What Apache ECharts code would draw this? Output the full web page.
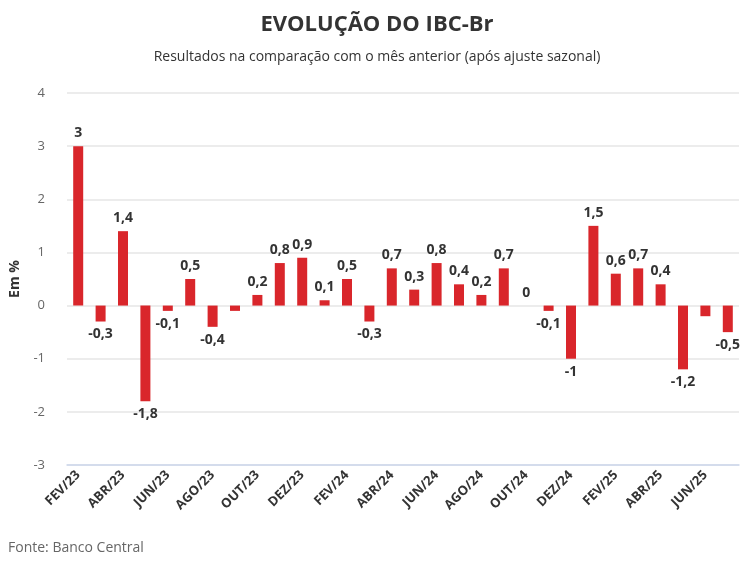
<!DOCTYPE html>
<html>
<head>
<meta charset="utf-8">
<script src="https://cdn.jsdelivr.net/npm/echarts@6/dist/echarts.min.js"></script>
<style>
html,body{margin:0;padding:0;background:#fff;}
#chart{width:754px;height:563px;}
</style>
</head>
<body>
<div id="chart"></div>
<script>
const categories = ['FEV/23','MAR/23','ABR/23','MAI/23','JUN/23','JUL/23','AGO/23','SET/23','OUT/23','NOV/23','DEZ/23','JAN/24','FEV/24','MAR/24','ABR/24','MAI/24','JUN/24','JUL/24','AGO/24','SET/24','OUT/24','NOV/24','DEZ/24','JAN/25','FEV/25','MAR/25','ABR/25','MAI/25','JUN/25','JUL/25'];
const values = [3,-0.3,1.4,-1.8,-0.1,0.5,-0.4,-0.1,0.2,0.8,0.9,0.1,0.5,-0.3,0.7,0.3,0.8,0.4,0.2,0.7,0,-0.1,-1,1.5,0.6,0.7,0.4,-1.2,-0.2,-0.5];
const hiddenLabels = ['SET/23','JUN/25'];
const yTicks = {min:-3, max:4, interval:1};

const fmt = v => String(v).replace('.', ',');
const data = values.map((v, i) => ({
  value: v,
  label: {
    show: hiddenLabels.indexOf(categories[i]) < 0,
    position: v < 0 ? 'bottom' : 'top'
  }
}));

const chart = echarts.init(document.getElementById('chart'));
chart.setOption({
  animation: false,
  textStyle: {fontFamily: 'Open Sans'},
  title: [{
    text: 'EVOLUÇÃO DO IBC-Br',
    left: 'center', top: 9,
    textStyle: {fontFamily: 'Open Sans', fontWeight: 'bold', fontSize: 22, color: '#333'}
  }, {
    text: 'Resultados na comparação com o mês anterior (após ajuste sazonal)',
    left: 'center', top: 45,
    textStyle: {fontFamily: 'Open Sans', fontWeight: 'normal', fontSize: 14, color: '#333'}
  }, {
    text: 'Fonte: Banco Central',
    left: 3, top: 536,
    textStyle: {fontFamily: 'Open Sans', fontWeight: 'normal', fontSize: 14, color: '#666'}
  }],
  grid: {left: 67, right: 15, top: 93, bottom: 98},
  xAxis: {
    type: 'category',
    data: categories,
    boundaryGap: true,
    axisLine: {onZero: false, lineStyle: {color: '#ccd6eb', width: 1.5}},
    axisTick: {alignWithLabel: true, interval: 1, length: 9, lineStyle: {color: '#ccd6eb', width: 1.5}},
    axisLabel: {interval: 1, rotate: 45, margin: 8, fontFamily: 'Open Sans', fontWeight: 'bold', fontSize: 13, color: '#333'}
  },
  yAxis: {
    type: 'value',
    min: yTicks.min, max: yTicks.max, interval: yTicks.interval,
    name: 'Em %',
    nameLocation: 'middle',
    nameGap: 39,
    nameTextStyle: {fontFamily: 'Open Sans', fontWeight: 'bold', fontSize: 14, color: '#333'},
    axisLine: {show: false},
    axisTick: {show: false},
    axisLabel: {fontFamily: 'Open Sans', fontSize: 13, color: '#666', margin: 22, formatter: v => fmt(v)},
    splitLine: {lineStyle: {color: '#e6e6e6', width: 1.5}}
  },
  series: [{
    type: 'bar',
    data: data,
    barWidth: 10,
    itemStyle: {color: '#d9262b'},
    label: {
      show: true,
      distance: 6,
      fontFamily: 'Open Sans', fontWeight: 'bold', fontSize: 14, color: '#333',
      formatter: p => fmt(p.value)
    }
  }]
});
</script>
</body>
</html>
